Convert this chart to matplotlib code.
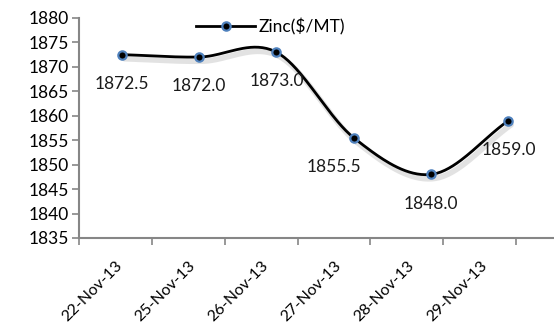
import numpy as np
import matplotlib
matplotlib.use("Agg")
import matplotlib.pyplot as plt
import matplotlib.patheffects as pe

plt.rcParams['font.family'] = ['Lato', 'DejaVu Sans']

# zinc prices, late November 2013
dates = ['22-Nov-13', '25-Nov-13', '26-Nov-13', '27-Nov-13', '28-Nov-13', '29-Nov-13']
zinc = [1872.5, 1872.0, 1873.0, 1855.5, 1848.0, 1859.0]
y_ticks = list(range(1835, 1881, 5))


def catmull_rom(px, py, n=40):
    # smoothed line through the points (like Excel's "smoothed line")
    px = np.concatenate([[2 * px[0] - px[1]], px, [2 * px[-1] - px[-2]]])
    py = np.concatenate([[2 * py[0] - py[1]], py, [2 * py[-1] - py[-2]]])
    out_x, out_y = [], []
    t = np.linspace(0, 1, n)
    for i in range(1, len(px) - 2):
        for arr, out in ((px, out_x), (py, out_y)):
            p0, p1, p2, p3 = arr[i - 1], arr[i], arr[i + 1], arr[i + 2]
            out.extend(0.5 * (2 * p1 + (-p0 + p2) * t
                              + (2 * p0 - 5 * p1 + 4 * p2 - p3) * t ** 2
                              + (-p0 + 3 * p1 - 3 * p2 + p3) * t ** 3))
    return np.array(out_x), np.array(out_y)


fig = plt.figure(figsize=(5.54, 3.26), dpi=100)
ax = fig.add_axes([0.142, 0.27, 0.856, 0.675])

n = len(dates)
ax.set_xlim(-0.5, 6.0)
ax.set_ylim(1835, 1880)

# series is drawn slightly offset from the category centres
x_line = np.arange(n) * 1.06 + 0.09

# spline computed in roughly pixel-proportional units
sx, sy = 73.0, 4.89
cx, cy = catmull_rom(x_line * sx, np.array(zinc) * sy)
ax.plot(cx / sx, cy / sy, color='black', lw=2, solid_capstyle='round',
        path_effects=[pe.SimpleLineShadow(offset=(2, -3), shadow_color='#7f7f7f',
                                          alpha=0.22, linewidth=4),
                      pe.Normal()], zorder=3)
ax.plot(x_line, zinc, ls='none', marker='o', ms=6, mfc='black', mec='#4f81bd',
        mew=1.6, zorder=4)

# legend entry: line-marker-line
ax.plot([], [], color='black', lw=2, marker='o', ms=6, mfc='black', mec='#4f81bd',
        mew=1.6, label='Zinc($/MT)')
leg = ax.legend(loc='upper center', bbox_to_anchor=(0.405, 1.07), frameon=False,
                fontsize=12.5, handlelength=3.4, handletextpad=0.2)

for i, (xv, v) in enumerate(zip(x_line, zinc)):
    dx = -14 if i == 3 else 0
    ax.annotate(f'{v:.1f}', (xv, v), xytext=(dx, -21), textcoords='offset points',
                ha='center', va='center', fontsize=12.5, color='#1a1a1a', zorder=5)

ax.set_yticks(y_ticks)
ax.set_yticklabels([str(t) for t in y_ticks], fontsize=12.5)
ax.set_xticks(np.arange(-0.5, 6.0, 1.0))
ax.set_xticklabels([])
ax.set_xticks(np.arange(n), minor=True)
ax.set_xticklabels(dates, minor=True, rotation=45, ha='right', rotation_mode='anchor',
                   fontsize=11.5)
ax.tick_params(axis='x', which='minor', length=0, pad=15)
ax.tick_params(axis='x', which='major', length=5, color='#868686', width=1.2)
ax.tick_params(axis='y', length=5, color='#868686', width=1.2, pad=2)

for s in ('top', 'right'):
    ax.spines[s].set_visible(False)
for s in ('left', 'bottom'):
    ax.spines[s].set_color('#868686')
    ax.spines[s].set_linewidth(1.5)

fig.savefig('out.png', dpi=100)
